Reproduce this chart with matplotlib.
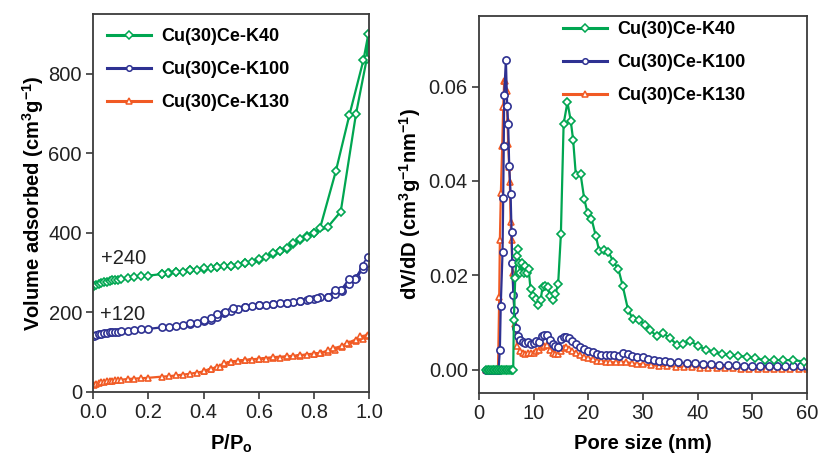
import matplotlib
matplotlib.use('Agg')
import numpy as np
import matplotlib.pyplot as plt

plt.rcParams['font.family'] = ['Liberation Sans', 'DejaVu Sans']
plt.rcParams['mathtext.fontset'] = 'custom'
plt.rcParams['mathtext.rm'] = 'Liberation Sans'
plt.rcParams['mathtext.bf'] = 'Liberation Sans:bold'

labels = ['Cu(30)Ce-K40', 'Cu(30)Ce-K100', 'Cu(30)Ce-K130']
colors = ['#00a651', '#2e3192', '#f15a24']
markers = ['D', 'o', '^']
offsets = [240, 120, 0]

# ---- isotherms (raw values, offset added when plotting) ----
k40_p_ads = [0.005, 0.01, 0.02, 0.03, 0.04, 0.05, 0.06, 0.07, 0.08, 0.09, 0.10, 0.125, 0.15,
             0.175, 0.20, 0.25, 0.275, 0.30, 0.325, 0.35, 0.375, 0.40, 0.425, 0.45, 0.475,
             0.50, 0.525, 0.55, 0.575, 0.60, 0.625, 0.65, 0.675, 0.70, 0.725, 0.75, 0.775,
             0.80, 0.85, 0.896, 0.951, 0.99, 0.996]
k40_v_ads = [25, 28, 32, 34, 36, 37, 39, 40, 41, 42, 43, 46, 48, 50, 52, 56, 58, 60, 62, 65,
             67, 69, 71, 73, 75, 76, 79, 83, 87, 92, 99, 106, 113, 120, 131, 142, 151,
             158, 175, 213, 458, 597, 660]
k40_p_des = [0.978, 0.927, 0.878, 0.821, 0.80, 0.775, 0.75, 0.725, 0.70, 0.675, 0.65, 0.60,
             0.55, 0.50, 0.45, 0.40, 0.35, 0.30, 0.27, 0.25]
k40_v_des = [594, 455, 314, 171, 160, 150, 143, 135, 122, 115, 108, 93, 84, 77, 73, 70, 66,
             62, 59, 57]

k100_p_ads = [0.005, 0.01, 0.02, 0.03, 0.04, 0.05, 0.06, 0.07, 0.08, 0.09, 0.10, 0.125,
              0.15, 0.175, 0.20, 0.25, 0.275, 0.30, 0.325, 0.35, 0.375, 0.40, 0.425, 0.45,
              0.475, 0.50, 0.525, 0.55, 0.575, 0.60, 0.625, 0.65, 0.675, 0.70, 0.725, 0.75,
              0.775, 0.80, 0.85, 0.875, 0.90, 0.925, 0.95, 0.975, 0.99, 0.996]
k100_v_ads = [20, 22, 24, 26, 27, 28, 29, 30, 30, 31, 32, 33, 35, 37, 38, 42, 44, 46, 48,
              51, 54, 57, 61, 68, 77, 84, 89, 92, 95, 97, 99, 101, 102, 104, 106, 108,
              110, 113, 118, 126, 134, 150, 165, 188, 205, 218]
k100_p_des = [0.975, 0.948, 0.927, 0.897, 0.875, 0.851, 0.821, 0.81, 0.78, 0.749, 0.70,
              0.652, 0.602, 0.55, 0.505, 0.477, 0.45, 0.425, 0.40, 0.35]
k100_v_des = [195, 163, 163, 136, 136, 119, 118, 115, 113, 108, 104, 101, 98, 94, 91, 81,
              75, 66, 60, 52]

k130_p_ads = [0.005, 0.01, 0.02, 0.03, 0.04, 0.05, 0.06, 0.07, 0.08, 0.09, 0.10, 0.125,
              0.15, 0.175, 0.20, 0.25, 0.275, 0.30, 0.325, 0.35, 0.375, 0.40, 0.425, 0.45,
              0.475, 0.50, 0.525, 0.55, 0.575, 0.60, 0.625, 0.65, 0.675, 0.70, 0.725, 0.75,
              0.775, 0.80, 0.825, 0.85, 0.875, 0.90, 0.925, 0.95, 0.975, 0.99, 0.996]
k130_v_ads = [18, 20, 22, 24, 25, 26, 27, 28, 29, 30, 30, 32, 33, 34, 35, 38, 39, 41, 43,
              45, 48, 51, 56, 63, 70, 75, 77, 79, 81, 82, 83, 85, 86, 88, 89, 91, 93, 95,
              98, 101, 106, 112, 120, 127, 133, 139, 143]
k130_p_des = [0.966, 0.95, 0.917, 0.90, 0.869, 0.85, 0.821, 0.80, 0.749, 0.70, 0.652, 0.60,
              0.55, 0.50, 0.475, 0.46, 0.425, 0.40]
k130_v_des = [139, 131, 122, 115, 109, 104, 97, 96, 92, 89, 87, 83, 80, 76, 72, 63, 58, 52]

iso = [(k40_p_ads, k40_v_ads, k40_p_des, k40_v_des),
       (k100_p_ads, k100_v_ads, k100_p_des, k100_v_des),
       (k130_p_ads, k130_v_ads, k130_p_des, k130_v_des)]

# ---- pore size distributions ----
k40_d = [1.3, 1.6, 1.9, 2.2, 2.5, 2.8, 3.1, 3.4, 3.7, 4.0, 4.3, 4.6, 4.9, 5.2, 5.5, 5.8,
         6.1, 6.28, 6.4, 6.65, 6.9, 7.07, 7.3, 7.6, 7.9, 8.2, 8.5, 8.8, 9.1, 9.45, 9.9,
         10.4, 10.85, 11.3, 11.65, 12.07, 12.56, 12.99, 13.5, 14.0, 14.5, 15.0, 15.5,
         16.2, 16.8, 17.25, 17.74, 18.6, 19.27, 19.9, 20.6, 21.4, 22.0, 22.9, 23.7, 24.6,
         25.5, 26.3, 27.3, 28.2, 29.3, 30.4, 31.3, 32.5, 33.7, 35.0, 36.2, 37.4, 38.6,
         40.1, 41.6, 43.0, 44.4, 46.0, 47.4, 49.0, 50.5, 52.3, 54.0, 55.7, 57.5, 59.5]
k40_dv = [0, 0, 0, 0, 0, 0, 0, 0, 0, 0, 0, 0, 0, 0, 0, 0,
          0, 0, 0.0106, 0.0194, 0.024, 0.0255, 0.0225, 0.0205, 0.0225, 0.0205, 0.022,
          0.0205, 0.0213, 0.017, 0.0157, 0.015, 0.0137, 0.0148, 0.0175, 0.0178, 0.0176,
          0.0157, 0.0148, 0.016, 0.0181, 0.0287, 0.0521, 0.0567, 0.0528, 0.0486, 0.0412,
          0.0415, 0.0362, 0.0331, 0.032, 0.0283, 0.0252, 0.0253, 0.025, 0.0228, 0.0214,
          0.0178, 0.0126, 0.0107, 0.0105, 0.0095, 0.0084, 0.0071, 0.0077, 0.0066, 0.0053,
          0.0054, 0.0061, 0.005, 0.0042, 0.0037, 0.0033, 0.0031, 0.0029, 0.0027, 0.0024,
          0.002, 0.002, 0.002, 0.002, 0.0017]

k100_d = [1.3, 1.8, 2.3, 2.8, 3.3, 3.6, 3.84, 4.0, 4.33, 4.45, 4.55, 4.63, 4.94, 5.18,
          5.36, 5.55, 5.8, 5.98, 6.1, 6.3, 6.5, 6.8, 7.2, 7.6, 8.0, 8.5, 9.0, 9.5, 10.0,
          10.5, 11.0, 11.5, 12.0, 12.5, 13.0, 13.5, 14.0, 14.5, 15.0, 15.5, 16.0, 16.5,
          17.0, 17.7, 18.5, 19.2, 20.0, 20.8, 21.6, 22.4, 23.2, 24.0, 24.8, 25.6, 26.4,
          27.2, 28.0, 29.0, 30.0, 31.0, 32.0, 33.0, 34.0, 35.0, 36.5, 38.0, 39.5, 41.0,
          42.5, 44.0, 45.5, 47.0, 48.5, 50.0, 51.5, 53.0, 54.5, 56.0, 57.5, 59.0, 60.0]
k100_dv = [0, 0, 0, 0, 0, 0, 0.0042, 0.0135, 0.025, 0.0363, 0.0475, 0.0583, 0.0657,
           0.0558, 0.052, 0.0431, 0.0373, 0.0292, 0.0227, 0.0158, 0.0127, 0.0088, 0.0072,
           0.0062, 0.0058, 0.0056, 0.0058, 0.0055, 0.0057, 0.006, 0.0058, 0.0072, 0.0074,
           0.0073, 0.0062, 0.0055, 0.005, 0.0048, 0.0065, 0.0069, 0.007, 0.0066, 0.006,
           0.0055, 0.0048, 0.0043, 0.004, 0.0037, 0.0034, 0.0031, 0.0031, 0.003, 0.003,
           0.0029, 0.0036, 0.0033, 0.0029, 0.0027, 0.0026, 0.0022, 0.002, 0.0019, 0.0019,
           0.0017, 0.0015, 0.0013, 0.0014, 0.0012, 0.0012, 0.001, 0.0009, 0.0009, 0.0008,
           0.0008, 0.0007, 0.0007, 0.0008, 0.0007, 0.0007, 0.0007, 0.0007]

k130_d = [1.3, 1.8, 2.3, 2.8, 3.3, 3.5, 3.72, 3.84, 4.02, 4.27, 4.45, 4.63, 4.85, 5.06,
          5.24, 5.36, 5.55, 5.67, 5.8, 5.98, 6.16, 6.6, 7.0, 7.5, 8.0, 8.5, 9.0, 9.5, 10.0,
          10.5, 11.0, 11.5, 12.0, 12.5, 13.0, 13.5, 14.0, 14.5, 15.0, 15.5, 16.0, 16.5,
          17.0, 17.7, 18.5, 19.2, 20.0, 20.8, 21.6, 22.4, 23.2, 24.0, 25.0, 26.0, 27.0,
          28.0, 29.0, 30.0, 31.5, 33.0, 34.5, 36.0, 37.5, 39.0, 40.5, 42.0, 43.5, 45.0,
          46.5, 48.0, 49.5, 51.0, 52.5, 54.0, 55.5, 57.0, 58.5, 60.0]
k130_dv = [0, 0, 0, 0, 0, 0, 0.0154, 0.0274, 0.0374, 0.0475, 0.0556, 0.0611, 0.0612,
           0.059, 0.0528, 0.0479, 0.0429, 0.0397, 0.0313, 0.0274, 0.0204, 0.0097, 0.005,
           0.004, 0.0035, 0.0034, 0.0035, 0.0036, 0.0036, 0.004, 0.0042, 0.0048, 0.005,
           0.0053, 0.0042, 0.0036, 0.0033, 0.0032, 0.004, 0.0045, 0.0047, 0.0044, 0.004,
           0.0035, 0.003, 0.0027, 0.0024, 0.0022, 0.0019, 0.0018, 0.0017, 0.0016, 0.0015,
           0.0016, 0.0016, 0.0013, 0.0012, 0.0011, 0.0009, 0.0008, 0.0007, 0.0006, 0.0005,
           0.0005, 0.0004, 0.0004, 0.0003, 0.0003, 0.0003, 0.0002, 0.0002, 0.0002, 0.0002,
           0.0001, 0.0001, 0.0001, 0.0001, 0.0001]

psd = [(k40_d, k40_dv), (k100_d, k100_dv), (k130_d, k130_dv)]

msize = {'D': 4.3, 'o': 5.2, '^': 4.0}

fig = plt.figure(figsize=(8.2, 4.68), dpi=100)
ax1 = fig.add_axes([0.1134, 0.163, 0.3372, 0.807])
ax2 = fig.add_axes([0.584, 0.160, 0.400, 0.806])

spine_col = '#3a3a3a'
for ax in (ax1, ax2):
    for s in ax.spines.values():
        s.set_color(spine_col)
        s.set_linewidth(1.3)
    ax.tick_params(direction='out', length=5, width=1.2, color=spine_col,
                   labelsize=14.5, labelcolor='#222222', top=False, right=False, pad=3)

# left: isotherms (plot in reverse so green sits on top)
for i in [2, 1, 0]:
    pa, va, pd_, vd = iso[i]
    p = list(pa) + list(pd_)
    v = [x + offsets[i] for x in list(va) + list(vd)]
    ax1.plot(p, v, color=colors[i], marker=markers[i], ms=msize[markers[i]],
             mfc='white', mec=colors[i], mew=1.2, lw=1.6)

ax1.set_xlim(0, 1.0)
ax1.set_ylim(0, 950)
ax1.set_xticks(np.arange(0, 1.01, 0.2))
ax1.set_xticklabels(['0.0', '0.2', '0.4', '0.6', '0.8', '1.0'])
ax1.set_yticks([0, 200, 400, 600, 800])
ax1.set_xlabel(r'P/P$_\mathbf{o}$', fontsize=14.5, fontweight='bold', labelpad=8)
ax1.set_ylabel(r'Volume adsorbed (cm$^\mathbf{3}$g$^\mathbf{-1}$)', fontsize=14.5,
               fontweight='bold', labelpad=2)
ax1.text(0.03, 336, '+240', fontsize=14.5, color='#222222', va='center')
ax1.text(0.025, 195, '+120', fontsize=14.5, color='#222222', va='center')

legend_kw = dict(frameon=False, prop={'weight': 'bold', 'size': 13}, handlelength=2.4,
                 labelspacing=0.88, handletextpad=0.6)

# legend handles
handles = []
for i in range(3):
    h, = ax1.plot([], [], color=colors[i], marker=markers[i], ms=4.0, mfc='white',
                  mec=colors[i], mew=1.1, lw=2.2, label=labels[i])
    handles.append(h)
ax1.legend(handles=handles, loc='upper left', bbox_to_anchor=(0.0, 1.0),
           borderaxespad=0.4, **legend_kw)

# right: PSD
for i in [2, 1, 0]:
    d, dv = psd[i]
    ax2.plot(d, dv, color=colors[i], marker=markers[i], ms=msize[markers[i]],
             mfc='white', mec=colors[i], mew=1.2, lw=1.6)

ax2.set_xlim(0, 60)
ax2.set_ylim(-0.005, 0.075)
ax2.set_xticks(np.arange(0, 61, 10))
ax2.set_yticks([0.0, 0.02, 0.04, 0.06])
ax2.set_yticklabels(['0.00', '0.02', '0.04', '0.06'])
ax2.set_xlabel('Pore size (nm)', fontsize=14.5, fontweight='bold', labelpad=8)
ax2.set_ylabel(r'dV/dD (cm$^\mathbf{3}$g$^\mathbf{-1}$nm$^\mathbf{-1}$)', fontsize=14.5,
               fontweight='bold', labelpad=4)

handles2 = []
for i in range(3):
    h, = ax2.plot([], [], color=colors[i], marker=markers[i], ms=4.0, mfc='white',
                  mec=colors[i], mew=1.1, lw=2.2, label=labels[i])
    handles2.append(h)
ax2.legend(handles=handles2, loc='upper left', bbox_to_anchor=(0.23, 1.01),
           borderaxespad=0.1, **legend_kw)

fig.savefig('out.png', dpi=100)
